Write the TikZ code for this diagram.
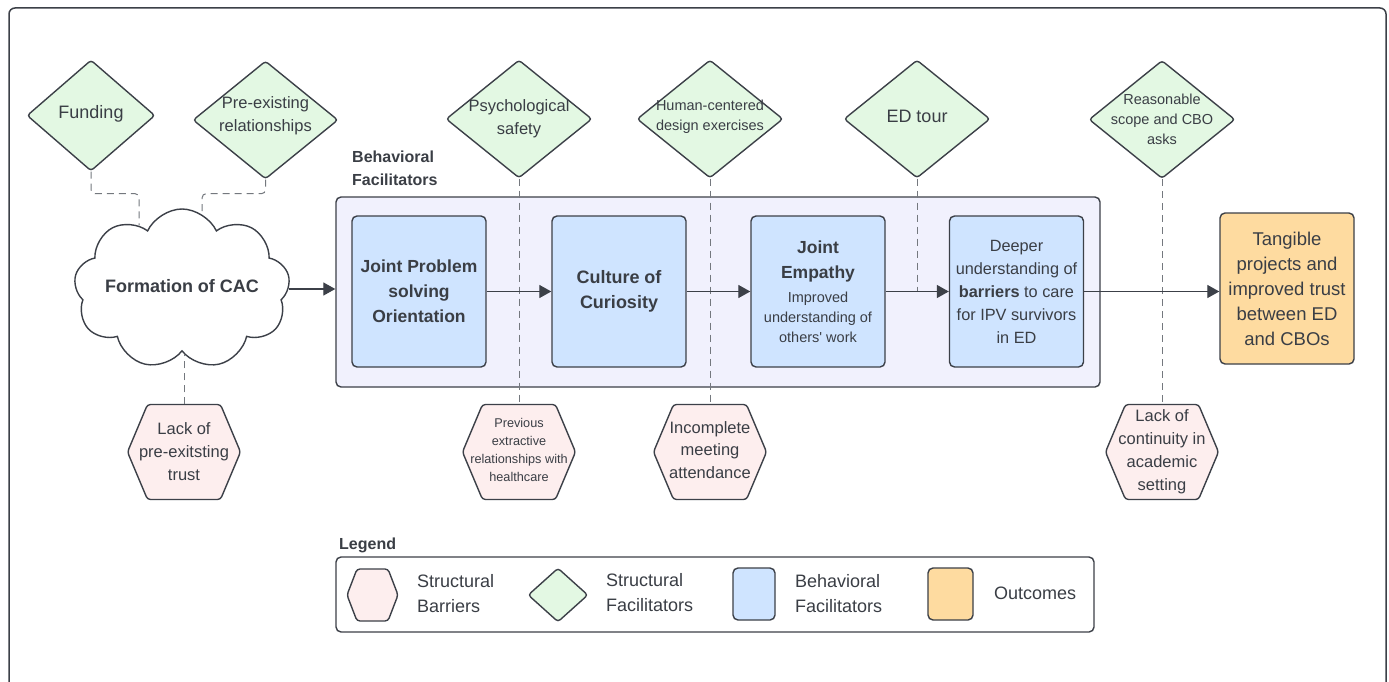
\documentclass[tikz,border=0pt]{standalone}
\usepackage{fontspec}
\setmainfont{Liberation Sans}
\usetikzlibrary{shapes.geometric,shapes.symbols,arrows.meta}

\definecolor{lineC}{HTML}{3C4048}
\definecolor{txtC}{HTML}{3A3E45}
\definecolor{dashC}{HTML}{74787E}
\definecolor{greenF}{HTML}{E3F8E3}
\definecolor{pinkF}{HTML}{FDEEEE}
\definecolor{blueF}{HTML}{CFE4FF}
\definecolor{lavF}{HTML}{F1F1FD}
\definecolor{orangeF}{HTML}{FEDBA0}

\newcommand\fsz[2]{\fontsize{#1}{#2}\selectfont}
% hexagon with pointed left/right ends: cx, cy, half width, half height, inset
\newcommand\hexoutline[5]{%
  \path[hexshape] ({#1-#3},#2) -- ({#1-#3+#5},{#2-#4}) -- ({#1+#3-#5},{#2-#4})
    -- ({#1+#3},#2) -- ({#1+#3-#5},{#2+#4}) -- ({#1-#3+#5},{#2+#4}) -- cycle;}

\tikzset{
  shapeline/.style={draw=lineC, line width=1.4pt},
  diam/.style={shapeline, diamond, fill=greenF, inner sep=0pt,
    minimum width=146pt, minimum height=118pt, rounded corners=3pt},
  lab/.style={text=txtC, align=center, inner sep=0pt},
  hexshape/.style={shapeline, fill=pinkF, rounded corners=3pt},
  hextext/.style={text=txtC, align=center, inner sep=0pt,
    minimum width=113pt, minimum height=95pt},
  behbox/.style={shapeline, fill=blueF, rounded corners=5pt, inner sep=2pt,
    minimum width=134pt, minimum height=151pt, align=center, text=txtC},
  outbox/.style={behbox, fill=orangeF},
  dconn/.style={draw=dashC, line width=1pt, dash pattern=on 7pt off 5pt, rounded corners=4pt},
  arr/.style={draw=lineC, line width=1.3pt, -{Triangle[length=12pt,width=13pt]}},
  legtext/.style={text=txtC, align=left, anchor=west, inner sep=0pt, font=\fsz{18}{25}},
}

\begin{document}
\begin{tikzpicture}[x=1pt,y=-1pt]
\useasboundingbox (0,0) rectangle (1389,682);
\clip (0,0) rectangle (1389,682);
\fill[white] (0,0) rectangle (1389,682);

% outer frame
\draw[lineC, line width=1.5pt, rounded corners=6pt] (9,8) rectangle (1386,720);

% behavioral facilitators group
\node[shapeline, fill=lavF, rounded corners=5pt, minimum width=764pt, minimum height=190pt] (cont) at (718,292) {};
\node[anchor=west, align=left, inner sep=0pt, text=txtC, font=\fsz{16}{23}\bfseries] (grplabel) at (352,168.5) {Behavioral\\Facilitators};

% starting point
\node[cloud, cloud puffs=9, cloud puff arc=130, cloud ignores aspect, shapeline, fill=white,
  minimum width=216pt, minimum height=160pt,
  label={[lab, font=\fsz{18}{22}\bfseries, yshift=3pt]center:Formation of CAC}] (cac) at (182,289) {};

% structural facilitators
\node[diam, minimum width=128pt, minimum height=111pt,
  label={[lab, font=\fsz{18}{22}, yshift=2pt]center:Funding}] (fund) at (91,115.5) {};
\node[diam, minimum width=145pt,
  label={[lab, font=\fsz{16.5}{23}, yshift=4pt]center:{Pre-existing\\relationships}}] (pre) at (265.5,120) {};
\node[diam,
  label={[lab, font=\fsz{16.5}{23}]center:{Psychological\\safety}}] (psy) at (519,119) {};
\node[diam,
  label={[lab, font=\fsz{14.5}{20}, yshift=2pt]center:{Human-centered\\design exercises}}] (hcd) at (710,119) {};
\node[diam,
  label={[lab, font=\fsz{18}{22}, yshift=3pt]center:ED tour}] (ed) at (917,119) {};
\node[diam,
  label={[lab, font=\fsz{14.5}{20}]center:{Reasonable\\scope and CBO\\asks}}] (rsc) at (1162,119.5) {};

% structural barriers
\hexoutline{184}{452}{56.5}{47.5}{20}
\node[hextext, font=\fsz{16.5}{23}] (h1) at (184,452) {Lack of\\pre-exitsting\\trust};
\hexoutline{519}{452}{56.5}{47.5}{20}
\node[hextext, font=\fsz{12.7}{18}] (h2) at (519,450) {Previous\\extractive\\relationships with\\healthcare};
\hexoutline{710}{452}{56.5}{47.5}{20}
\node[hextext, font=\fsz{16.5}{22.5}] (h3) at (710,450) {Incomplete\\meeting\\attendance};
\hexoutline{1162}{452}{56.5}{47.5}{20}
\node[hextext, font=\fsz{16.5}{23}] (h4) at (1162,452) {Lack of\\continuity in\\academic\\setting};

% behavioral facilitators
\node[behbox, font=\fsz{17.5}{25}\bfseries] (b1) at (419,291.5) {Joint Problem\\solving\\Orientation};
\node[behbox, font=\fsz{18}{25}\bfseries] (b2) at (619,291.5) {Culture of\\Curiosity};
\node[behbox, font=\fsz{14.5}{20}] (b3) at (818,291.5)
  {{\fsz{17.5}{25}\bfseries Joint}\\[5pt]{\fsz{17.5}{25}\bfseries Empathy}\\[4pt]Improved\\understanding of\\others\textquotesingle\ work};
\node[behbox, font=\fsz{16.3}{23}] (b4) at (1016.5,291.5)
  {Deeper\\understanding of\\\textbf{barriers} to care\\for IPV survivors\\in ED};

% outcome
\node[outbox, font=\fsz{18.5}{25}] (out) at (1287,288.5)
  {Tangible\\projects and\\improved trust\\between ED\\and CBOs};

% dashed links
\draw[dconn] (fund.south) -- ++(0,22) -| (cac.124);
\draw[dconn] (pre.south) -- ++(0,14) -| (cac.75);
\draw[dconn] (h1.north) -- (h1.north |- cac.-88);
\draw[dconn] (psy.south) -- (h2.north |- h1.north);
\draw[dconn] (hcd.south) -- (h3.north |- h1.north);
\draw[dconn] (ed.south) -- (ed.south |- b3.east);
\draw[dconn] (rsc.south) -- (h4.north);

% flow arrows
\draw[arr] (cac.east) -- (cac.east -| cont.west);
\draw[arr] (b1.east) -- (b2.west);
\draw[arr] (b2.east) -- (b3.west);
\draw[arr] (b3.east) -- (b4.west);
\draw[arr] (b4.east) -- (b4.east -| out.west);

% legend
\node[anchor=west, inner sep=0pt, text=txtC, font=\fsz{16}{20}\bfseries] (legtitle) at (339,545) {Legend};
\node[draw=lineC, line width=1.4pt, fill=white, rounded corners=5pt,
  minimum width=758pt, minimum height=75pt] (legbox) at (715,594.5) {};
\hexoutline{372.5}{595}{25.5}{26}{10}
\node[legtext] (lg1) at (417,593.5) {Structural\\Barriers};
\node[diam, minimum width=60pt, minimum height=54pt] (lgd) at (558,595) {};
\node[legtext] (lg2) at (606,592.5) {Structural\\Facilitators};
\node[behbox, minimum width=42pt, minimum height=52pt] (lgb) at (754,594) {};
\node[legtext] (lg3) at (795,593.5) {Behavioral\\Facilitators};
\node[outbox, minimum width=45pt, minimum height=52pt] (lgo) at (950.5,594) {};
\node[legtext] (lg4) at (994,593) {Outcomes};
\end{tikzpicture}
\end{document}
